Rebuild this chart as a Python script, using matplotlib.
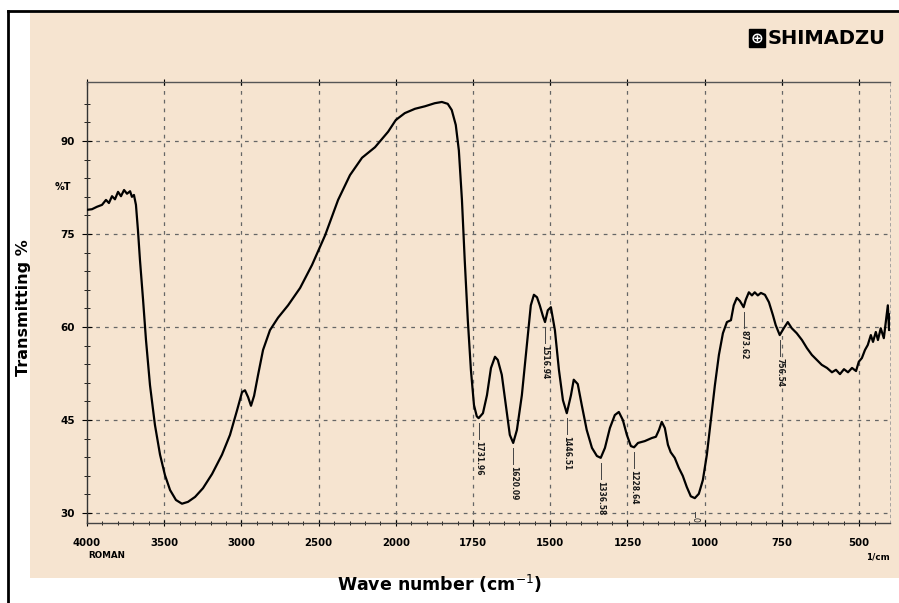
import numpy as np
import matplotlib
matplotlib.use('Agg')
import matplotlib.pyplot as plt
from matplotlib.patches import Rectangle
from matplotlib.lines import Line2D

# FTIR spectrum (wavenumber in 1/cm, transmittance in %)
wn = [4000, 3968, 3935, 3903, 3877, 3858, 3838, 3819, 3799, 3780, 3760, 3741,
      3721, 3709, 3696, 3683, 3670, 3657, 3637, 3618, 3592, 3560, 3527, 3495,
      3462, 3424, 3385, 3346, 3300, 3249, 3190, 3126, 3074, 3028, 2996, 2977,
      2957, 2938, 2918, 2892, 2860, 2815, 2763, 2698, 2620, 2543, 2458, 2374,
      2297, 2219, 2135, 2050, 2000,
      1971, 1938, 1906, 1874, 1851, 1832, 1819, 1806, 1796, 1786, 1777, 1767,
      1757, 1747, 1738, 1732, 1718, 1705, 1692, 1679, 1670, 1657, 1644, 1631,
      1620, 1608, 1592, 1576, 1563, 1553, 1543, 1534, 1524, 1517, 1508, 1498,
      1485, 1472, 1459, 1446.5, 1433, 1424, 1411, 1398, 1382, 1365, 1349,
      1336.6, 1323, 1307, 1291, 1278, 1265, 1252, 1239, 1228.6, 1216, 1194,
      1171, 1158, 1148, 1139, 1129, 1119, 1110, 1097, 1084, 1071, 1058, 1045,
      1032, 1019, 1006, 993, 980, 967, 954, 941, 928, 915, 906, 896, 886, 874,
      867, 857, 847, 838, 828, 818, 805, 792, 779, 770, 757, 744, 731, 718,
      702, 685, 669, 653, 637, 621, 604, 588, 575, 562, 549, 536, 523, 510,
      501, 491, 481, 472, 462, 455, 446, 439, 430, 420, 413, 407, 403, 400]
tr = [78.9, 79.0, 79.4, 79.7, 80.5, 80.0, 81.1, 80.6, 81.8, 81.1, 82.1, 81.5,
      81.9, 81.0, 81.3, 79.7, 75.6, 70.8, 64.4, 57.9, 50.6, 44.2, 39.4, 36.1,
      33.7, 32.1, 31.5, 31.8, 32.6, 34.0, 36.3, 39.4, 42.6, 46.6, 49.5, 49.8,
      48.7, 47.3, 48.9, 52.3, 56.3, 59.5, 61.5, 63.5, 66.3, 70.0, 74.8, 80.5,
      84.5, 87.3, 89.0, 91.5, 93.4,
      94.5, 95.2, 95.6, 96.1, 96.3, 96.0, 95.0, 92.6, 88.5, 80.5, 70.8, 61.1,
      53.1, 47.4, 45.6, 45.3, 46.1, 49.0, 53.4, 55.2, 54.7, 52.3, 47.4, 42.6,
      41.3, 43.4, 49.0, 57.1, 63.5, 65.2, 64.8, 63.5, 61.8, 60.8, 62.7, 63.2,
      59.5, 53.1, 48.2, 46.1, 49.0, 51.5, 50.8, 47.4, 43.4, 40.5, 39.2,
      38.9, 40.5, 43.7, 45.8, 46.3, 45.0, 42.6, 40.8, 40.6, 41.3, 41.6,
      42.1, 42.3, 43.4, 44.7, 43.7, 41.0, 39.8, 38.9, 37.3, 36.0, 34.2, 32.7,
      32.4, 33.1, 35.3, 39.4, 45.0, 50.6, 55.5, 59.0, 60.8, 61.1, 63.5, 64.7, 64.2, 63.2,
      64.4, 65.6, 65.1, 65.6, 65.1, 65.5, 65.2, 64.0, 61.9, 60.3, 58.7, 59.8, 60.8, 59.8,
      59.0, 57.9, 56.6, 55.5, 54.7, 53.9, 53.4, 52.7, 53.1, 52.4, 53.2, 52.7, 53.4, 52.9,
      54.4, 55.0, 56.3, 57.1, 58.7, 57.6, 59.2, 57.9, 59.8, 58.2, 61.1, 63.5, 59.5, 62.0]

peak_wn = [1731.96, 1620.09, 1516.94, 1446.51, 1336.58, 1228.64, 873.62, 756.54]
peak_txt = ['1731.96', '1620.09', '1516.94', '1446.51', '1336.58', '1228.64',
            '873.62', '756.54']

x_major = [4000, 3500, 3000, 2500, 2000, 1750, 1500, 1250, 1000, 750, 500]
y_major = [30, 45, 60, 75, 90]

BG = '#f6e4d0'


# Shimadzu chart paper: 500/cm per division above 2000, 250/cm per division below
def fwd(w):
    w = np.asarray(w, dtype=float)
    return np.where(w >= 2000, w / 500.0, 4 + (w - 2000) / 250.0)


def inv(v):
    v = np.asarray(v, dtype=float)
    return np.where(v >= 4, v * 500.0, 2000 + (v - 4) * 250.0)


fig = plt.figure(figsize=(8.99, 6.03), dpi=100, facecolor='white')
W, H = 899.0, 603.0

# beige paper and outer frame
fig.patches.append(Rectangle((30 / W, 1 - 578 / H), 869 / W, 565 / H,
                             transform=fig.transFigure, facecolor=BG,
                             edgecolor='none', zorder=-10))
fig.lines.append(Line2D([8 / W, 1], [1 - 11 / H, 1 - 11 / H], transform=fig.transFigure,
                        color='black', lw=2, zorder=-5))
fig.lines.append(Line2D([8 / W, 8 / W], [0, 1 - 11 / H], transform=fig.transFigure,
                        color='black', lw=2, zorder=-5))

ax = fig.add_axes([87 / W, 1 - 523 / H, 803 / W, 441 / H])
ax.set_zorder(2)
ax.set_facecolor('none')
ax.set_xscale('function', functions=(fwd, inv))
ax.set_xlim(4000, 400)
ax.set_ylim(28.39, 99.52)

ax.plot(wn, tr, color='black', lw=1.6, zorder=3)

# dashed chart grid
for w in x_major[1:]:
    ax.axvline(w, color='#666666', lw=0.9, ls=(0, (3, 4)), zorder=1)
for t in y_major:
    ax.axhline(t, color='#666666', lw=0.9, ls=(0, (3, 4)), zorder=1)

# peak markers
trv = np.array(tr)
wnv = np.array(wn)
for w, s in zip(peak_wn, peak_txt):
    t0 = trv[np.argmin(np.abs(wnv - w))]
    ax.plot([w, w], [t0 - 0.8, t0 - 3.4], color='#444444', lw=0.7, zorder=2)
    ax.text(w, t0 - 3.7, s, rotation=270, ha='center', va='top', fontsize=5.5,
            fontweight='bold', color='#1a1a1a', zorder=2)
ax.plot([1032, 1032], [30.2, 29.4], color='#444444', lw=0.7)
ax.text(1032, 29.3, '0', rotation=270, ha='center', va='top', fontsize=5.5,
        color='#1a1a1a')

ax.set_xticks(x_major)
ax.set_xticklabels([str(v) for v in x_major], fontsize=7.3, fontweight='bold')
minor_x = [v for v in list(range(3900, 2000, -100)) + list(range(1950, 400, -50))
           if v not in x_major]
ax.set_xticks(minor_x, minor=True)
ax.set_yticks(y_major)
ax.set_yticklabels([str(v) for v in y_major], fontsize=7.5, fontweight='bold')
ax.set_yticks(np.arange(30, 99, 3), minor=True)
ax.tick_params(axis='x', which='major', direction='inout', length=5, width=0.8,
               pad=8, top=True)
ax.tick_params(axis='x', which='minor', direction='inout', length=3, width=0.6,
               top=False)
ax.tick_params(axis='y', which='major', direction='inout', length=7, width=0.8, pad=5)
ax.tick_params(axis='y', which='minor', direction='inout', length=4, width=0.6)

ax.spines['left'].set_color('#333333')
ax.spines['left'].set_linewidth(1.0)
ax.spines['bottom'].set_color('#444444')
ax.spines['bottom'].set_linewidth(1.0)
ax.spines['top'].set_color('#555555')
ax.spines['top'].set_linewidth(1.0)
ax.spines['top'].set_linestyle((0, (6, 1)))
ax.spines['right'].set_color('#999999')
ax.spines['right'].set_linewidth(0.6)
ax.spines['right'].set_linestyle((0, (3, 4)))

# chart paper texts
fig.text(63 / W, 1 - 187 / H, '%T', fontsize=7, fontweight='bold', ha='center', va='center')
fig.text(88 / W, 1 - 556 / H, 'ROMAN', fontsize=6.3, fontweight='bold', ha='left', va='center')
fig.text(878 / W, 1 - 557 / H, '1/cm', fontsize=6.3, fontweight='bold', ha='center', va='center')
fig.text(757 / W, 1 - 38 / H, '\u2295', fontsize=11, color='white', ha='center', va='center',
         fontweight='bold',
         bbox=dict(boxstyle='square,pad=0.08', facecolor='black', edgecolor='black'))
fig.text(768 / W, 1 - 38 / H, 'SHIMADZU', fontsize=14, fontweight='heavy', ha='left',
         va='center')

fig.text(24 / W, 1 - 308 / H, 'Transmitting %', rotation=90, fontsize=11.5,
         fontweight='bold', ha='center', va='center')
fig.text(440 / W, 1 - 584 / H, 'Wave number (cm$^{-1}$)', fontsize=12.5,
         fontweight='bold', ha='center', va='center')

fig.savefig('out.png', dpi=100, facecolor='white')
